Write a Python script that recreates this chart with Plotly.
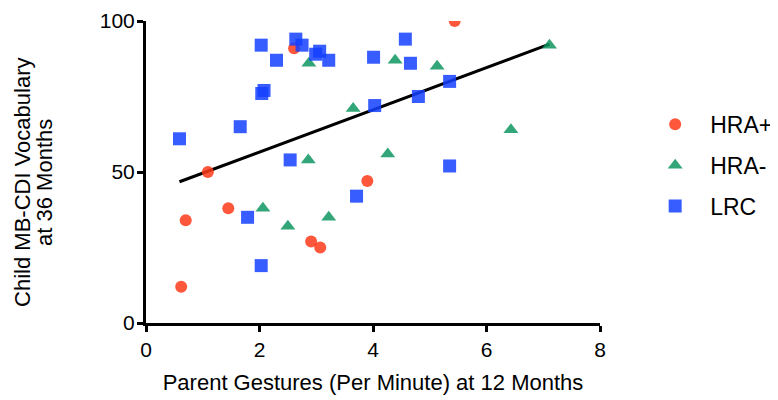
import numpy as np
import plotly.graph_objects as go

# HRA+ (red circles)
hra_pos_x = [0.62, 0.70, 1.09, 1.45, 2.61, 2.91, 3.07, 3.90, 5.44]
hra_pos_y = [12, 34, 50, 38, 91, 27, 25, 47, 100]

# HRA- (green triangles)
hra_neg_x = [2.87, 3.65, 2.86, 4.39, 5.13, 7.11, 6.43, 4.26, 2.06, 2.50, 3.22]
hra_neg_y = [86, 71, 54, 87, 85, 92, 64, 56, 38, 32, 35]

# LRC (blue squares)
lrc_x = [0.59, 1.66, 2.04, 2.08, 2.03, 2.30, 2.64, 2.75, 2.99, 3.06, 3.22,
         4.01, 2.54, 4.03, 4.57, 4.66, 5.35, 4.80, 5.35, 1.79, 3.71, 2.03]
lrc_y = [61, 65, 76, 77, 92, 87, 94, 92, 89, 90, 87,
         88, 54, 72, 94, 86, 80, 75, 52, 35, 42, 19]

x_ticks = [0, 2, 4, 6, 8]
y_ticks = [0, 50, 100]
x_title = "Parent Gestures (Per Minute) at 12 Months"
y_title_lines = ["Child MB-CDI Vocabulary", "at 36 Months"]

FONT = "Liberation Sans, Arial, Helvetica, sans-serif"

all_x = np.array(hra_pos_x + hra_neg_x + lrc_x)
all_y = np.array(hra_pos_y + hra_neg_y + lrc_y)
slope, intercept = np.polyfit(all_x, all_y, 1)
fit_x = np.array([all_x.min(), all_x.max()])
fit_y = slope * fit_x + intercept

fig = go.Figure()
fig.add_trace(go.Scatter(
    x=fit_x, y=fit_y, mode="lines", line=dict(color="black", width=3),
    showlegend=False, hoverinfo="skip"))
fig.add_trace(go.Scatter(
    x=hra_pos_x, y=hra_pos_y, mode="markers", name="HRA+", legendgroup="a",
    marker=dict(symbol="circle", size=12, color="#FF3A1A", opacity=0.85,
                line=dict(width=0))))
fig.add_trace(go.Scatter(
    x=hra_neg_x, y=hra_neg_y, mode="markers", name="HRA-", legendgroup="b",
    marker=dict(symbol="triangle-up", size=13, color="#0E9660", opacity=0.85,
                line=dict(width=0))))
fig.add_trace(go.Scatter(
    x=lrc_x, y=lrc_y, mode="markers", name="LRC", legendgroup="c",
    marker=dict(symbol="square", size=13, color="#1440FF", opacity=0.85,
                line=dict(width=0))))

# y-axis title as two rotated lines (controlled line spacing)
for xpos, txt in zip([-0.271, -0.2225], y_title_lines):
    fig.add_annotation(text=txt, xref="paper", yref="paper", x=xpos, y=0.467,
                       xanchor="center", yanchor="middle", textangle=-90,
                       showarrow=False, font=dict(size=22, family=FONT))

fig.update_layout(
    width=770, height=392,
    margin=dict(l=138, r=178, t=13, b=77),
    plot_bgcolor="white", paper_bgcolor="white",
    font=dict(family=FONT, color="black", size=21),
    legend=dict(xref="container", yref="container", x=0.821, y=0.758,
                xanchor="left", yanchor="top",
                font=dict(size=23, family=FONT), itemwidth=60,
                tracegroupgap=8, traceorder="grouped",
                bgcolor="rgba(0,0,0,0)"),
    xaxis=dict(range=[0, 8], tickvals=x_ticks, showgrid=False, zeroline=False,
               showline=True, linecolor="black", linewidth=3,
               ticks="outside", ticklen=6, tickwidth=3, tickcolor="black",
               ticklabelstandoff=0, automargin=False,
               tickfont=dict(size=21, family=FONT),
               title=dict(text=x_title,
                          font=dict(size=22, family=FONT), standoff=15)),
    yaxis=dict(range=[0, 100], tickvals=y_ticks, showgrid=False, zeroline=False,
               showline=True, linecolor="black", linewidth=3,
               ticks="outside", ticklen=6, tickwidth=3, tickcolor="black",
               ticklabelstandoff=-2, automargin=False,
               tickfont=dict(size=21, family=FONT)),
)

fig.write_html("out.html")
